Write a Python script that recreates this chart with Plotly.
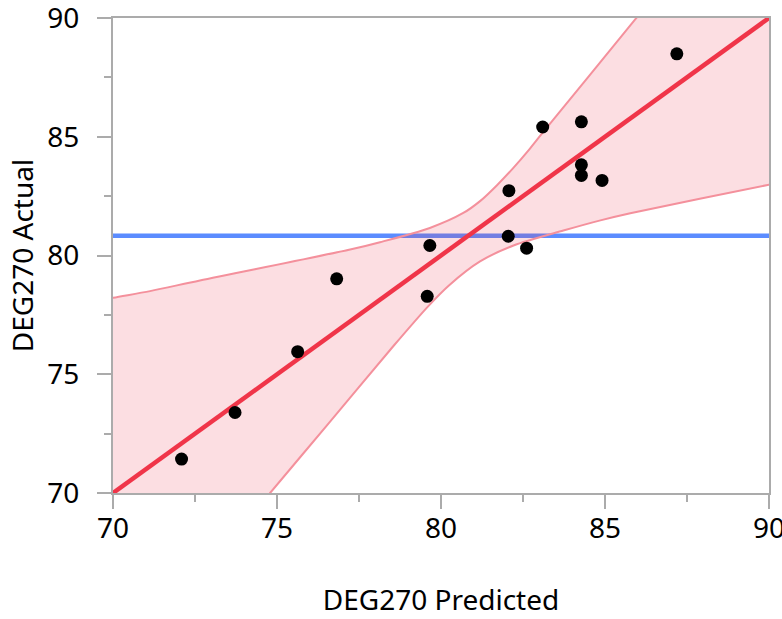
import plotly.graph_objects as go

# Observed points (predicted, actual)
pred = [72.09, 73.72, 75.63, 76.82, 79.58, 79.66, 82.05, 82.07, 82.61,
        83.10, 84.28, 84.28, 84.28, 84.91, 87.19]
actual = [71.43, 73.39, 75.95, 79.02, 78.28, 80.42, 80.81, 82.73, 80.31,
          85.41, 85.63, 83.82, 83.37, 83.16, 88.49]

# Fit line and mean line
fit_x = [70, 90]
fit_y = [70, 90]
mean_y = 80.83

# Confidence curves (end points lie just outside the axes)
upper_x = [69.0, 70.0, 71.13, 72.65, 77.23, 78.14, 79.66, 80.68, 81.2, 81.7, 82.2, 82.7, 83.10, 85.92, 86.6]
upper_y = [77.95, 78.22, 78.50, 78.95, 80.25, 80.56, 81.16, 81.79, 82.3, 82.95, 83.68, 84.48, 85.17, 89.94, 91.1]
lower_x = [74.19, 74.79, 76.51, 78.55, 79.6, 80.25, 81.19, 82.21, 83.73, 84.86, 85.77, 90.0, 91.0]
lower_y = [69.0, 70.0, 72.83, 76.19, 77.85, 78.75, 79.75, 80.42, 81.05, 81.48, 81.78, 82.98, 83.24]

x_ticks = [70, 75, 80, 85, 90]
y_ticks = [70, 75, 80, 85, 90]

FONT = "Noto Sans"
FS = 28
AX = "#ababab"

fig = go.Figure()

# mean line (under the band)
fig.add_trace(go.Scatter(x=[70, 90], y=[mean_y, mean_y], mode="lines",
                         line=dict(color="#5b8cff", width=4.5), hoverinfo="skip"))

# band fill polygon
poly_x = upper_x + [lower_x[-1]] + lower_x[::-1] + [upper_x[0]]
poly_y = upper_y + [upper_y[-1]] + lower_y[::-1] + [lower_y[0]]
fig.add_trace(go.Scatter(x=poly_x, y=poly_y, mode="lines", fill="toself",
                         fillcolor="rgba(240,60,85,0.17)",
                         line=dict(width=0, shape="spline", smoothing=0.8),
                         hoverinfo="skip"))
# band edges
fig.add_trace(go.Scatter(x=upper_x, y=upper_y, mode="lines",
                         line=dict(color="#f4909c", width=2, shape="spline", smoothing=0.8),
                         hoverinfo="skip"))
fig.add_trace(go.Scatter(x=lower_x, y=lower_y, mode="lines",
                         line=dict(color="#f4909c", width=2, shape="spline", smoothing=0.8),
                         hoverinfo="skip"))

# fit line
fig.add_trace(go.Scatter(x=fit_x, y=fit_y, mode="lines",
                         line=dict(color="#f03549", width=4.5), hoverinfo="skip"))

# points
fig.add_trace(go.Scatter(x=pred, y=actual, mode="markers",
                         marker=dict(color="black", size=13)))

axis_common = dict(
    range=[70, 90], showgrid=False, zeroline=False, automargin=False,
    showline=True, linecolor=AX, linewidth=2, mirror=True,
    ticks="outside", ticklen=14, tickwidth=2, tickcolor=AX,
    ticklabeloverflow="allow",
    tickfont=dict(family=FONT, size=FS, color="black"),
    minor=dict(dtick=2.5, ticks="outside", ticklen=7, tickwidth=2, tickcolor=AX),
)

fig.update_layout(
    width=782, height=619,
    margin=dict(l=113, r=13, t=18, b=126),
    paper_bgcolor="white", plot_bgcolor="white",
    showlegend=False,
    xaxis=dict(**axis_common, tickvals=x_ticks, ticktext=[str(v) for v in x_ticks],
               ticklabelstandoff=-5,
               title=dict(text="DEG270 Predicted", font=dict(family=FONT, size=FS, color="black"),
                          standoff=46)),
    yaxis=dict(**axis_common, tickvals=y_ticks, ticktext=[str(v) for v in y_ticks],
               ticklabelstandoff=12,
               title=dict(text="DEG270 Actual", font=dict(family=FONT, size=FS, color="black"),
                          standoff=6)),
)

fig.write_html("out.html")
